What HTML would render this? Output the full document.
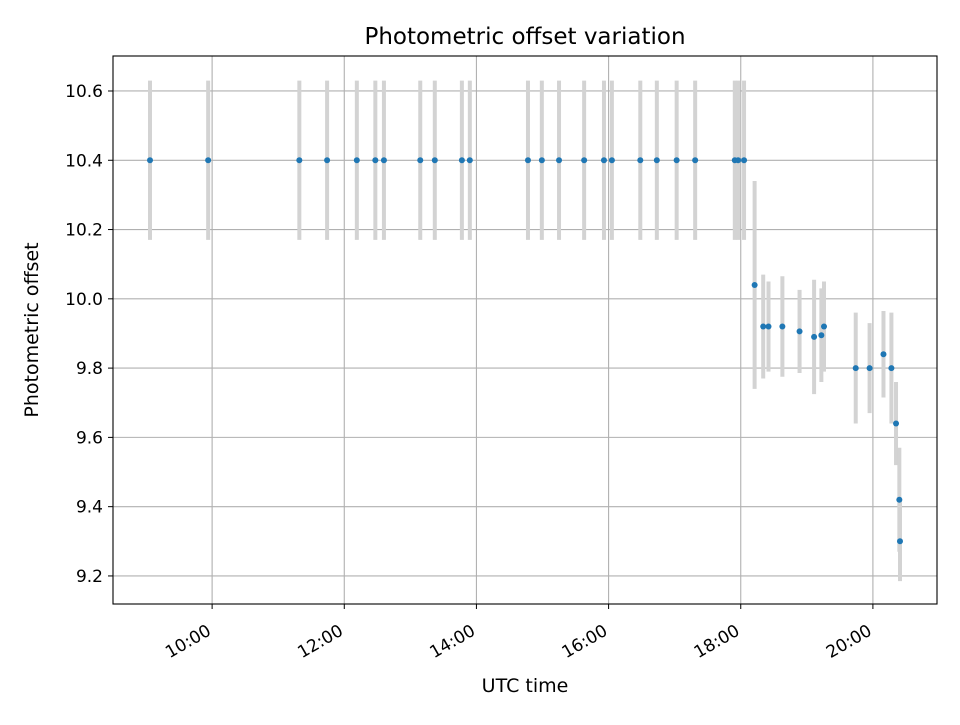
<!DOCTYPE html>
<html><head><meta charset="utf-8"><style>
body{margin:0;background:#fff}
svg text{font-family:"DejaVu Sans","Liberation Sans",sans-serif;fill:#000}
</style></head><body>
<svg id="chart" width="960" height="720">
<rect width="960" height="720" fill="#fff"/>
<g id="grid"></g><g id="errs"></g><g id="pts"></g><g id="axes"></g>
<text x="525" y="44" text-anchor="middle" font-size="23">Photometric offset variation</text>
<text x="525" y="692" text-anchor="middle" font-size="19">UTC time</text>
<text transform="translate(38,330) rotate(-90)" text-anchor="middle" font-size="19">Photometric offset</text>
</svg>
<script>
const timesHours=[9.06,9.94,11.32,11.74,12.19,12.47,12.60,13.15,13.37,13.78,13.90,14.78,14.99,15.25,15.63,15.93,16.05,16.48,16.73,17.03,17.31,17.91,17.96,18.05,
18.21,18.34,18.42,18.63,18.89,19.11,19.22,19.26,19.74,19.95,20.16,20.28,20.35,20.40,20.41];
const offsets=[10.4,10.4,10.4,10.4,10.4,10.4,10.4,10.4,10.4,10.4,10.4,10.4,10.4,10.4,10.4,10.4,10.4,10.4,10.4,10.4,10.4,10.4,10.4,10.4,
10.04,9.92,9.92,9.92,9.906,9.89,9.895,9.92,9.80,9.80,9.84,9.80,9.64,9.42,9.30];
const errors=[0.23,0.23,0.23,0.23,0.23,0.23,0.23,0.23,0.23,0.23,0.23,0.23,0.23,0.23,0.23,0.23,0.23,0.23,0.23,0.23,0.23,0.23,0.23,0.23,
0.30,0.15,0.13,0.145,0.12,0.165,0.135,0.13,0.16,0.13,0.125,0.16,0.12,0.15,0.115];
const xTicks=[10,12,14,16,18,20];
const xTickLabels=["10:00","12:00","14:00","16:00","18:00","20:00"];
const yTicks=[9.2,9.4,9.6,9.8,10.0,10.2,10.4,10.6];
const yTickLabels=["9.2","9.4","9.6","9.8","10.0","10.2","10.4","10.6"];
const L=113,R=937,T=56,B=604,xmin=8.5,xmax=20.97,ymin=9.119,ymax=10.701;
const X=h=>L+(h-xmin)/(xmax-xmin)*(R-L);
const Y=v=>B-(v-ymin)/(ymax-ymin)*(B-T);
const NS="http://www.w3.org/2000/svg";
function mk(tag,attrs,parent){const e=document.createElementNS(NS,tag);for(const k in attrs)e.setAttribute(k,attrs[k]);parent.appendChild(e);return e;}
const grid=document.getElementById('grid'),axes=document.getElementById('axes'),errs=document.getElementById('errs'),pts=document.getElementById('pts');
xTicks.forEach((t,i)=>{const x=X(t);
 const g=mk('line',{x1:x,x2:x,y1:T,y2:B,stroke:'#b0b0b0','stroke-width':1.1},grid);
 
 mk('line',{x1:x,x2:x,y1:B,y2:B+5,stroke:'#000','stroke-width':1},axes);
 const tx=mk('text',{x:0,y:0,'font-size':17,'text-anchor':'end',transform:`translate(${x},${B+30}) rotate(-30)`},axes);
 tx.textContent=xTickLabels[i];
 });
yTicks.forEach((t,i)=>{const y=Y(t);
 const g=mk('line',{x1:L,x2:R,y1:y,y2:y,stroke:'#b0b0b0','stroke-width':1.1},grid);
 
 mk('line',{x1:L-5,x2:L,y1:y,y2:y,stroke:'#000','stroke-width':1},axes);
 const tx=mk('text',{x:L-10,y:y+6,'font-size':17,'text-anchor':'end'},axes);
 tx.textContent=yTickLabels[i];
 });
const fr=mk('rect',{x:L,y:T,width:R-L,height:B-T,fill:'none',stroke:'#000','stroke-width':1.1},axes);

timesHours.forEach((h,i)=>{const x=X(h);
 const e=mk('line',{x1:x,x2:x,y1:Y(offsets[i]+errors[i]),y2:Y(offsets[i]-errors[i]),stroke:'#d3d3d3','stroke-width':4},errs);
 
 const c=mk('circle',{cx:x,cy:Y(offsets[i]),r:3,fill:'#1f77b4'},pts);
 });
</script>
</body></html>
